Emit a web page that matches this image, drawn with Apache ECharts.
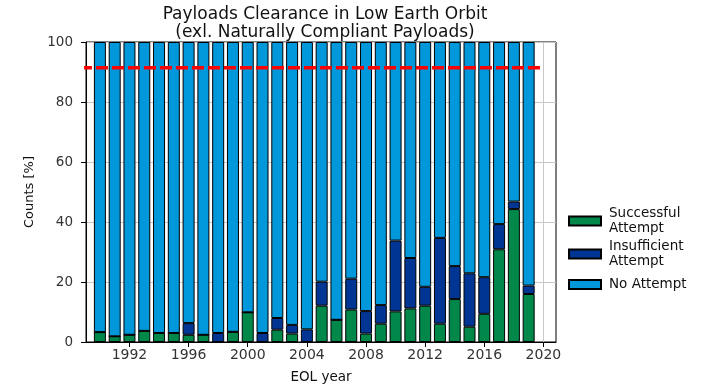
<!DOCTYPE html>
<html>
<head>
<meta charset="utf-8">
<script src="https://cdn.jsdelivr.net/npm/echarts@6/dist/echarts.min.js"></script>
<style>
  html, body { margin: 0; padding: 0; background: #fff; }
  #chart { width: 702px; height: 389px; }
</style>
</head>
<body>
<div id="chart"></div>
<script>
// End-of-life years, one bar per year
const years = [1990, 1991, 1992, 1993, 1994, 1995, 1996, 1997, 1998, 1999,
               2000, 2001, 2002, 2003, 2004, 2005, 2006, 2007, 2008, 2009,
               2010, 2011, 2012, 2013, 2014, 2015, 2016, 2017, 2018, 2019];

// Share of payloads per clearance outcome [%]
const successful = [3.3, 1.9, 2.4, 3.7, 3.0, 3.0, 2.4, 2.4, 0, 3.4,
                    9.9, 0, 4.1, 2.8, 0, 12.1, 7.4, 10.8, 2.8, 6.1,
                    10.2, 11.2, 12.1, 6.1, 14.3, 5.1, 9.4, 30.9, 44.3, 16.0];
const insufficient = [0, 0, 0, 0, 0, 0, 3.9, 0, 3.0, 0,
                      0, 3.0, 3.9, 2.9, 4.2, 8.0, 0, 10.3, 7.5, 6.2,
                      23.6, 16.8, 6.3, 28.6, 11.0, 17.8, 12.2, 8.4, 2.5, 2.8];
const noAttempt = [96.7, 98.1, 97.6, 96.3, 97.0, 97.0, 93.7, 97.6, 97.0, 96.6,
                   90.1, 97.0, 92.0, 94.3, 95.8, 79.9, 92.6, 78.9, 89.7, 87.7,
                   66.2, 72.0, 81.6, 65.3, 74.7, 77.1, 78.4, 60.7, 53.2, 81.2];

// Compliance threshold and the span of the reference line
const thresholdValue = 91.4;
const thresholdSpan = [1988.65, 2019.85];

const xTicks = [1992, 1996, 2000, 2004, 2008, 2012, 2016, 2020];
const yTicks = [0, 20, 40, 60, 80, 100];

const seriesNames = ['Successful\nAttempt', 'Insufficient\nAttempt', 'No Attempt'];
const seriesColors = ['#00884a', '#003594', '#0097db'];
const seriesValues = [successful, insufficient, noAttempt];

const FONT = 'DejaVu Sans';
const GRID_GREY = '#c8c8c8';

const chart = echarts.init(document.getElementById('chart'), null, { renderer: 'canvas' });

// Rows are [share, year] so the share column is the one that gets stacked
const barSeries = seriesValues.map((vals, i) => ({
  name: seriesNames[i],
  type: 'bar',
  stack: 'share',
  barWidth: 12,
  data: years.map((y, k) => [vals[k], y]),
  encode: { x: 1, y: 0 },
  itemStyle: { color: seriesColors[i], borderColor: '#000', borderWidth: 1 },
  emphasis: { disabled: true },
  z: 2
}));

// Vertical grid lines at the labelled years, kept underneath the bars
const xGridSeries = {
  name: 'xgrid',
  type: 'line',
  data: [],
  silent: true,
  z: 1,
  markLine: {
    silent: true,
    z: 1,
    symbol: 'none',
    label: { show: false },
    lineStyle: { color: GRID_GREY, width: 1, type: 'solid' },
    data: xTicks.map(x => ({ xAxis: x }))
  }
};

const legendTops = [201, 234, 272];

chart.setOption({
  animation: false,
  backgroundColor: '#fff',
  title: {
    text: 'Payloads Clearance in Low Earth Orbit\n(exl. Naturally Compliant Payloads)',
    left: 320,
    top: 1,
    textAlign: 'center',
    textStyle: { fontFamily: FONT, fontSize: 17, fontWeight: 'normal', color: '#111', lineHeight: 18 }
  },
  legend: seriesNames.map((n, i) => ({
    data: [{ name: n, icon: 'rect' }],
    orient: 'vertical',
    left: 563,
    top: legendTops[i],
    itemWidth: 32,
    itemHeight: 9,
    selectedMode: false,
    textStyle: { fontFamily: FONT, fontSize: 13.5, color: '#111', lineHeight: 15, padding: [0, 0, 0, 3] }
  })),
  grid: {
    left: 86, right: 146, top: 42, bottom: 44.5,
    show: true, borderColor: '#000', borderWidth: 1, backgroundColor: 'transparent'
  },
  xAxis: {
    type: 'value',
    min: 1989.06,
    max: 2020.85,
    name: 'EOL year',
    nameLocation: 'middle',
    nameGap: 28,
    nameTextStyle: { fontFamily: FONT, fontSize: 13.5, color: '#111' },
    axisLine: { show: true, onZero: false, lineStyle: { color: '#000', width: 1 } },
    axisTick: { show: true, customValues: xTicks, length: 5, lineStyle: { color: '#000' } },
    axisLabel: { customValues: xTicks, formatter: v => String(v), fontFamily: FONT, fontSize: 14, color: '#333', margin: 6 },
    splitLine: { show: false }
  },
  yAxis: {
    type: 'value',
    min: 0,
    max: 100,
    interval: 20,
    name: 'Counts [%]',
    nameLocation: 'middle',
    nameGap: 48,
    nameTextStyle: { fontFamily: FONT, fontSize: 13, color: '#111' },
    axisLine: { show: true, lineStyle: { color: '#000', width: 1 } },
    axisTick: { show: true, length: 5, lineStyle: { color: '#000' } },
    axisLabel: { customValues: yTicks, fontFamily: FONT, fontSize: 13.5, color: '#333', margin: 13 },
    splitLine: { show: true, lineStyle: { color: GRID_GREY, width: 1 } }
  },
  series: [xGridSeries].concat(barSeries, [{
    name: 'threshold',
    type: 'line',
    data: thresholdSpan.map(x => [x, thresholdValue]),
    symbol: 'none',
    clip: false,
    silent: true,
    lineStyle: { color: '#ff0000', width: 3.5, type: [12, 4], cap: 'butt' },
    z: 5
  }])
});
</script>
</body>
</html>
